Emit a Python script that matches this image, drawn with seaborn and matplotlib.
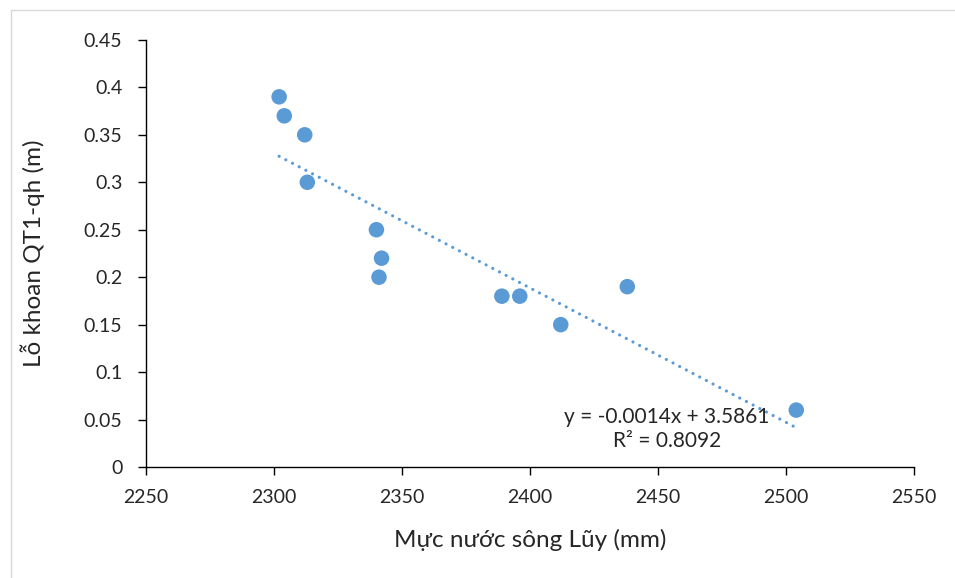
import numpy as np
import pandas as pd
import seaborn as sns
import matplotlib.pyplot as plt
from matplotlib.patches import Rectangle

# values
water_level = [2302, 2304, 2312, 2313, 2340, 2342, 2341, 2389, 2396, 2412, 2438, 2504]
borehole = [0.39, 0.37, 0.35, 0.30, 0.25, 0.22, 0.20, 0.18, 0.18, 0.15, 0.19, 0.06]
x_ticks = [2250, 2300, 2350, 2400, 2450, 2500, 2550]
y_ticks = [0, 0.05, 0.1, 0.15, 0.2, 0.25, 0.3, 0.35, 0.4, 0.45]
y_tick_labels = ['0', '0.05', '0.1', '0.15', '0.2', '0.25', '0.3', '0.35', '0.4', '0.45']
eq_text = 'y = -0.0014x + 3.5861\nR² = 0.8092'

sns.set_style('ticks')
plt.rcParams['font.family'] = ['Lato', 'DejaVu Sans']

df = pd.DataFrame({'x': water_level, 'y': borehole})
blue = '#5B9BD5'

fig = plt.figure(figsize=(9.55, 5.78), dpi=100)
fig.patches.append(Rectangle((0.011, -0.01), 1.0, 0.993, transform=fig.transFigure,
                             fill=False, edgecolor='#d9d9d9', linewidth=1))
ax = fig.add_axes([0.1529, 0.192, 0.8042, 0.739])

sns.scatterplot(data=df, x='x', y='y', ax=ax, color=blue, s=125,
                edgecolor='none', zorder=3)

# linear trendline
slope, intercept = np.polyfit(df['x'], df['y'], 1)
xs = np.array([df['x'].min(), df['x'].max()])
ax.plot(xs, slope * xs + intercept, color=blue, linewidth=2.3,
        linestyle=(0, (0.01, 2.35)), dash_capstyle='round', zorder=2)

ax.text(2453.5, 0.040, eq_text, ha='center', va='center', fontsize=15,
        linespacing=1.3)

ax.set_xlim(2250, 2550)
ax.set_ylim(0, 0.45)
ax.set_xticks(x_ticks)
ax.set_yticks(y_ticks)
ax.set_yticklabels(y_tick_labels)
ax.tick_params(axis='both', labelsize=14, length=6, width=1, color='black',
               direction='out')
ax.tick_params(axis='y', pad=11)
ax.tick_params(axis='x', pad=10)
for side in ['top', 'right']:
    ax.spines[side].set_visible(False)
for side in ['left', 'bottom']:
    ax.spines[side].set_color('black')
    ax.spines[side].set_linewidth(1)

ax.set_xlabel('Mực nước sông Lũy (mm)', fontsize=17.5, labelpad=16)
ax.set_ylabel('Lỗ khoan QT1-qh (m)', fontsize=17.5, labelpad=28)

fig.savefig('out.png', dpi=100)
